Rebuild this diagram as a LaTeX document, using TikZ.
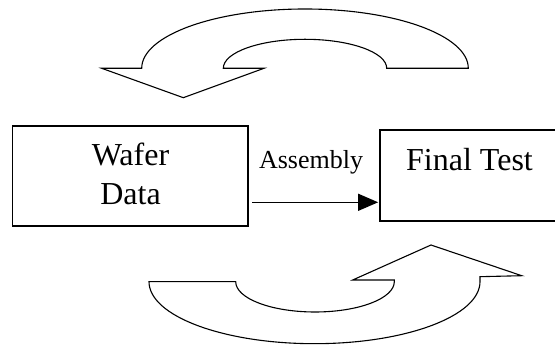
\documentclass[tikz,border=0pt]{standalone}
\usepackage{fontspec}
\setmainfont{Liberation Serif}
\usetikzlibrary{arrows.meta}
\tikzset{
  box/.style={draw=black, line width=1.3pt, fill=white, inner sep=0pt},
  label/.style={inner sep=0pt, anchor=base, font=\fontsize{32}{37}\selectfont},
  small/.style={inner sep=0pt, anchor=base, font=\fontsize{26}{30}\selectfont},
  bentarrow/.style={draw=black, line width=1.1pt, fill=white, line join=miter},
  conn/.style={draw=black, line width=1.2pt, -{Triangle[length=20pt,width=17pt]}},
}
\begin{document}
\begin{tikzpicture}[x=1pt,y=1pt]
  \useasboundingbox (0,0) rectangle (555,347);
  \fill[white] (0,0) rectangle (555,347);
  \clip (0,0) rectangle (555,347);

  % curved arrow at the top, pointing down-left
  \draw[bentarrow] (101.7,278.7) -- (141.7,278.7)
    arc[start angle=180, end angle=0, x radius=163.3, y radius=59.3]
    -- (386.7,278.7)
    arc[start angle=0, end angle=180, x radius=81.7, y radius=29]
    -- (264,278.7) -- (183.3,249.3) -- cycle;

  % curved arrow at the bottom, pointing up-right
  \draw[bentarrow] (149,65.3)
    arc[start angle=180, end angle=360, x radius=165.5, y radius=62]
    -- (480,70.3) -- (521.7,71.3) -- (431,102) -- (352.7,67) -- (394.3,67)
    -- (394.3,65.3)
    arc[start angle=0, end angle=-180, x radius=79.3, y radius=30.3]
    -- cycle;

  % the two boxes
  \node[box, minimum width=235.3pt, minimum height=100pt] (wafer) at (130.35,171) {};
  \node[box, minimum width=220pt, minimum height=91pt] (final) at (490,171.5) {};

  \node[label] (wafertxt) at (130.5,181.3) {Wafer};
  \node[label] (datatxt) at (130.5,142.7) {Data};
  \node[label, anchor=base west] (finaltxt) at (406,176.7) {Final Test};
  \node[small] (asmtxt) at (311,178.7) {Assembly};

  % connector between the boxes
  \draw[conn] ([shift={(3.7,-26.3)}]wafer.east) -- ([shift={(-1.2,-26.8)}]final.west);
\end{tikzpicture}
\end{document}
